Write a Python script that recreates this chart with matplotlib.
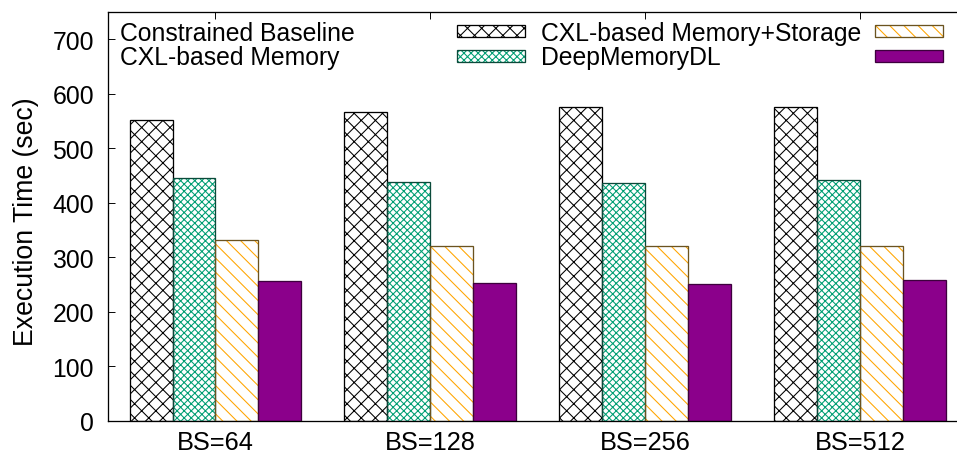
import matplotlib.pyplot as plt
import numpy as np
from matplotlib.patches import Rectangle

# Execution time per batch size (sec)
batch_sizes = ["BS=64", "BS=128", "BS=256", "BS=512"]
constrained = [551, 567, 575, 575]
cxl_memory = [445, 439, 437, 442]
cxl_storage = [331, 320, 321, 320]
deepmemory = [256, 252, 251, 258]

series_names = ["Constrained Baseline", "CXL-based Memory",
                "CXL-based Memory+Storage", "DeepMemoryDL"]
series_values = [constrained, cxl_memory, cxl_storage, deepmemory]

# fill, hatch colour, hatch, edge colour
styles = [
    ("white", "black", "xx", "black"),
    ("white", "#009e73", "xxxx", "#0b4a3a"),
    ("white", "#ffa500", "\\\\", "#6b5320"),
    ("#8b008b", "#8b008b", "", "#3d003d"),
]

DPI = 85
plt.rcParams["font.family"] = ["Liberation Sans", "DejaVu Sans"]
plt.rcParams["font.size"] = 21
plt.rcParams["hatch.linewidth"] = 0.9

fig = plt.figure(figsize=(957 / DPI, 455 / DPI), dpi=DPI)
ax = fig.add_axes([0.1129, 0.0730, 0.8981, 0.8984])

x = np.arange(len(batch_sizes))
width = 0.2
for i, (vals, (fc, hc, hatch, ec)) in enumerate(zip(series_values, styles)):
    offs = (i - 1.5) * width
    ax.bar(x + offs, vals, width, color=fc, hatch=hatch,
           edgecolor=hc, linewidth=0, zorder=2)
    # outline drawn separately so hatch colour and border can differ
    ax.bar(x + offs, vals, width, fill=False, edgecolor=ec,
           linewidth=1.1, zorder=3)

ax.set_xlim(-0.5, 3.5)
ax.set_ylim(0, 750)
ax.set_yticks(range(0, 701, 100))
ax.set_xticks(x)
ax.set_xticklabels(batch_sizes, fontsize=21.5)
ax.tick_params(axis="both", direction="in", length=6, width=0.8)
ax.tick_params(axis="x", top=True, pad=8)
ax.tick_params(axis="y", pad=12)
for s in ax.spines.values():
    s.set_linewidth(1.1)

ax.set_ylabel("Execution Time (sec)", fontsize=22.5)
ax.yaxis.set_label_coords(-0.08, 0.49)

# two column key: text on the left, sample on the right
rows_y = [0.949, 0.889]
text_x = [0.014, 0.504]
key_x = [0.406, 0.892]
key_w, key_h = 0.079, 0.029
for i, (name, (fc, hc, hatch, ec)) in enumerate(zip(series_names, styles)):
    col, row = divmod(i, 2)
    ax.text(text_x[col], rows_y[row], name, transform=ax.transAxes,
            ha="left", va="center")
    ky = rows_y[row] + 0.004 - key_h / 2
    ax.add_patch(Rectangle((key_x[col], ky), key_w, key_h,
                           transform=ax.transAxes, facecolor=fc, hatch=hatch,
                           edgecolor=hc, linewidth=0, clip_on=False, zorder=4))
    ax.add_patch(Rectangle((key_x[col], ky), key_w, key_h,
                           transform=ax.transAxes, fill=False, edgecolor=ec,
                           linewidth=1.1, clip_on=False, zorder=5))

fig.savefig("out.png", dpi=DPI)
